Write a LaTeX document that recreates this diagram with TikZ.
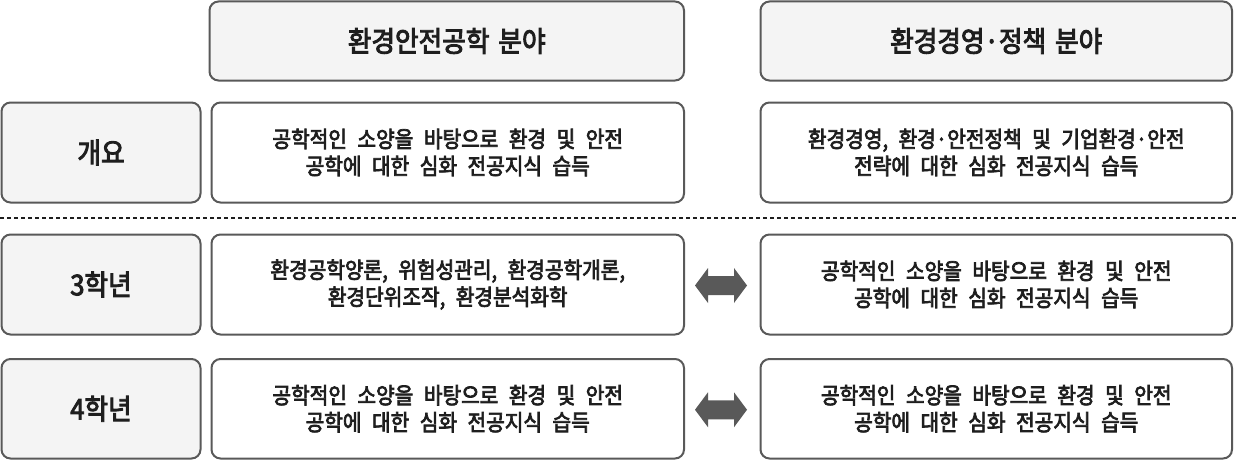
\documentclass[tikz,border=0pt]{standalone}
\usepackage{fontspec}
\setmainfont{Noto Sans CJK KR}[FakeBold=3.2,FakeStretch=0.9]
\usetikzlibrary{calc}
\definecolor{boxline}{HTML}{595959}
\definecolor{boxfill}{HTML}{F4F4F4}
\definecolor{txt}{HTML}{1E1E1E}
\newcommand{\hdsize}{\fontsize{28.5}{30}\selectfont\spaceskip=9pt\relax\xspaceskip=9pt\relax}
\newcommand{\ctsize}{\fontsize{22.5}{27}\selectfont\spaceskip=10.5pt\relax\xspaceskip=10.5pt\relax}
\begin{document}
\begin{tikzpicture}[x=1pt,y=-1pt,
  basebox/.style={draw=boxline,line width=2pt,rounded corners=9pt,outer sep=0pt,inner sep=0pt,text=txt,align=center},
  headbox/.style={basebox,fill=boxfill,minimum height=79pt,font=\hdsize},
  labelbox/.style={basebox,fill=boxfill,minimum width=199pt,font=\hdsize},
  contentbox/.style={basebox,fill=white,font=\ctsize},
  leftw/.style={minimum width=472.5pt},
  rightw/.style={minimum width=471.5pt},
  sep/.style={draw=txt,line width=1.3pt,dash pattern=on 4pt off 3pt},
  dblarrow/.style={fill=boxline}
]
\useasboundingbox (0,0) rectangle (1236,460);
% headers
\node[headbox,minimum width=474.5pt] (hL) at (446.75,41) {환경안전공학 분야};
\node[headbox,minimum width=471.5pt] (hR) at (996.25,41) {환경경영·정책 분야};
% row 1
\node[labelbox,minimum height=100pt] (l1) at (101,152.5) {개요};
\node[contentbox,leftw,minimum height=100pt] (a1) at (447.75,152.5) {공학적인 소양을 바탕으로 환경 및 안전\\공학에 대한 심화 전공지식 습득};
\node[contentbox,rightw,minimum height=100pt] (b1) at (996.25,152.5) {환경경영, 환경·안전정책 및 기업환경·안전\\전략에 대한 심화 전공지식 습득};
% separator
\coordinate (s0) at (0,218);
\coordinate (s1) at (1236,218);
\draw[sep] (s0) -- (s1);
% row 2
\node[labelbox,minimum height=100pt] (l2) at (101,284.5) {3학년};
\node[contentbox,leftw,minimum height=100pt] (a2) at (447.75,284.5) {환경공학양론, 위험성관리, 환경공학개론,\\환경단위조작, 환경분석화학};
\node[contentbox,rightw,minimum height=100pt] (b2) at (996.25,284.5) {공학적인 소양을 바탕으로 환경 및 안전\\공학에 대한 심화 전공지식 습득};
% row 3
\node[labelbox,minimum height=99.5pt] (l3) at (101,408.75) {4학년};
\node[contentbox,leftw,minimum height=99.5pt] (a3) at (447.75,408.75) {공학적인 소양을 바탕으로 환경 및 안전\\공학에 대한 심화 전공지식 습득};
\node[contentbox,rightw,minimum height=99.5pt] (b3) at (996.25,408.75) {공학적인 소양을 바탕으로 환경 및 안전\\공학에 대한 심화 전공지식 습득};
% double arrows
\foreach \r in {2,3}{
  \coordinate (m\r) at ($(a\r.east)!0.5!(b\r.west)+(-1.25,1)$);
  \fill[dblarrow] ($(m\r)+(-26,0)$) -- ++(13,-17.5) -- ++(0,8) -- ++(26,0) -- ++(0,-8)
     -- ++(13,17.5) -- ++(-13,17.5) -- ++(0,-8) -- ++(-26,0) -- ++(0,8) -- cycle;
}
\end{tikzpicture}
\end{document}
